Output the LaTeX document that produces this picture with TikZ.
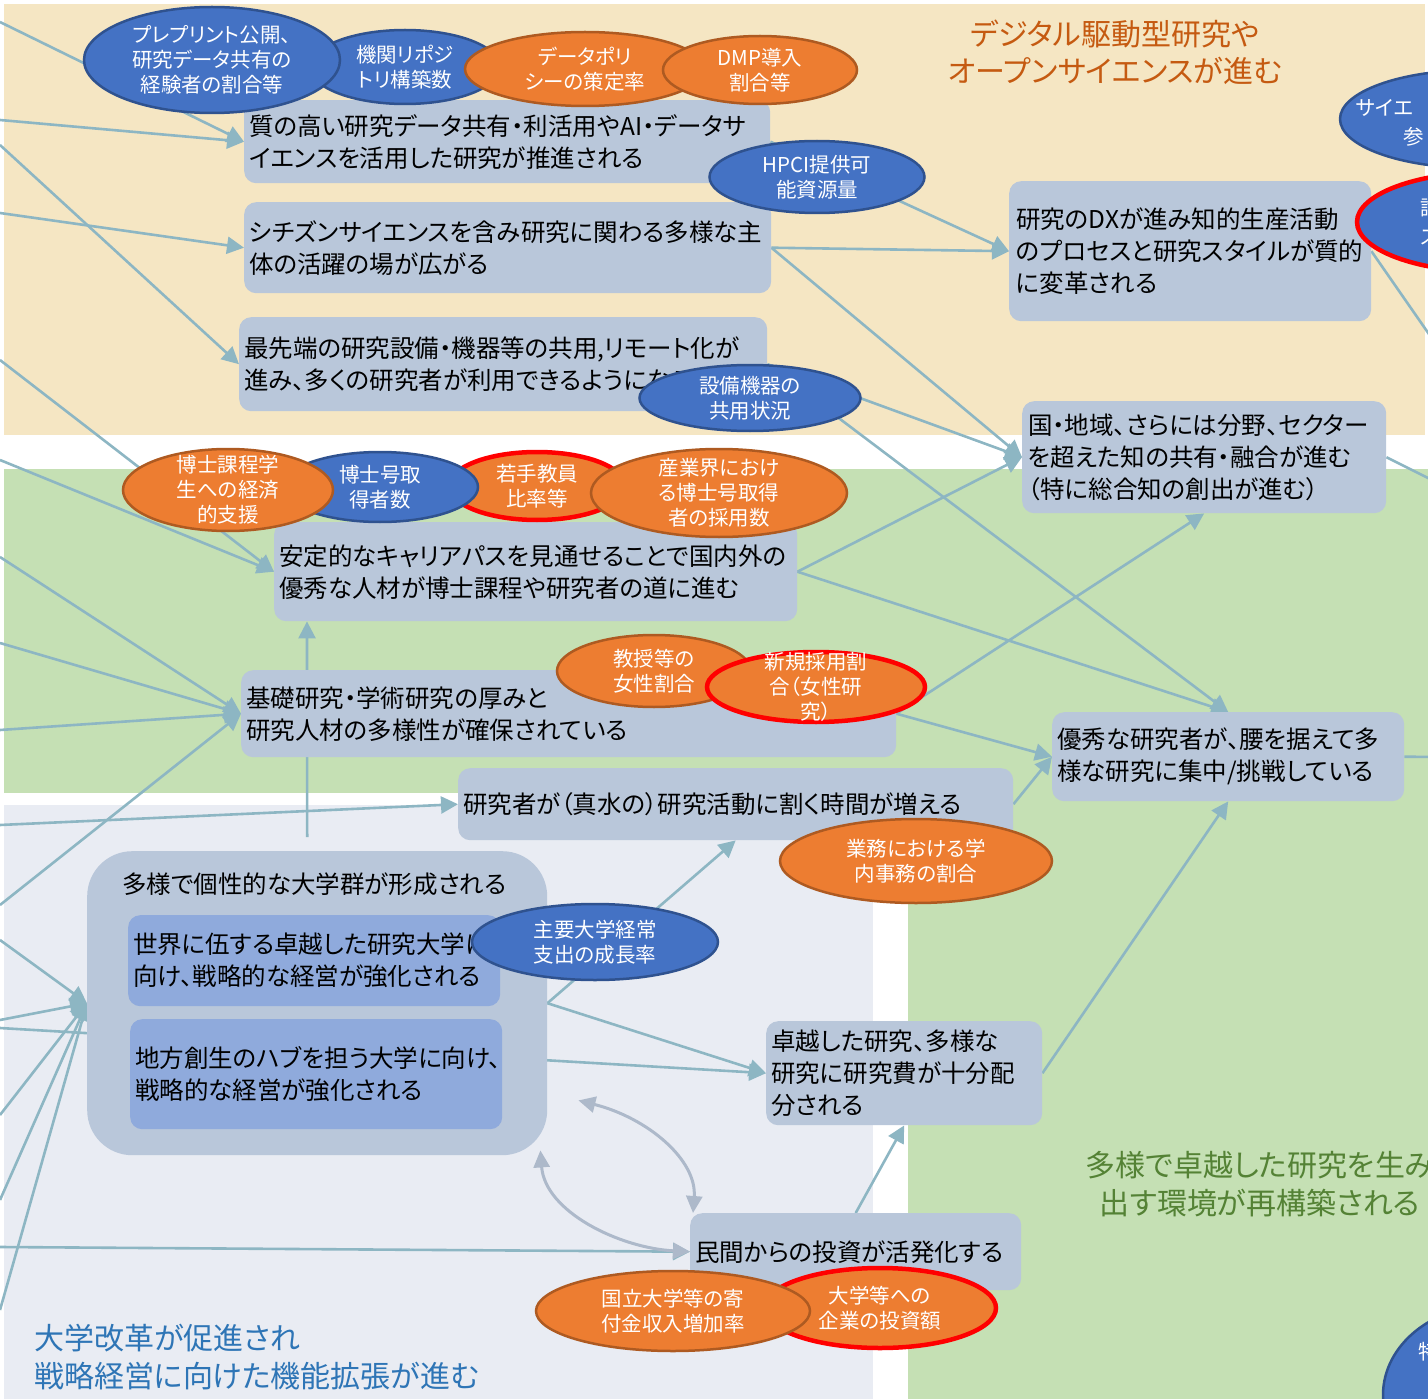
\documentclass[tikz,border=0pt]{standalone}
\usepackage{fontspec}
\setmainfont{Noto Sans CJK JP}[RawFeature=+palt]
\usepackage{xcolor}
\usetikzlibrary{shapes.geometric,arrows.meta,positioning}
\definecolor{bgY}{HTML}{F5E6C3}
\definecolor{bgG}{HTML}{C5E0B4}
\definecolor{bgB}{HTML}{E9ECF3}
\definecolor{boxC}{HTML}{B9C7DA}
\definecolor{innC}{HTML}{8FAADC}
\definecolor{eBlue}{HTML}{4472C4}
\definecolor{eBlueL}{HTML}{2F528F}
\definecolor{eOrng}{HTML}{ED7D31}
\definecolor{eOrngL}{HTML}{AE5A21}
\definecolor{lkC}{HTML}{8DB6C3}
\definecolor{cvC}{HTML}{ADB9CA}
\definecolor{ttO}{HTML}{C55A11}
\definecolor{ttB}{HTML}{2E75B6}
\definecolor{ttG}{HTML}{548235}
\newcommand\bxfont{\fontsize{24.5}{32}\selectfont}
\newcommand\elfont{\fontsize{20.5}{25}\selectfont}
\newcommand\ttfont{\fontsize{30}{38}\selectfont}
\pgfdeclarelayer{bg}
\pgfdeclarelayer{lk}
\pgfsetlayers{bg,lk,main}
\tikzset{
    BX1/.style ={rectangle, rounded corners=12pt, fill=boxC, inner xsep=5pt, inner ysep=2pt, anchor=north west, align=left, font=\bxfont},
    BX2/.style ={BX1, fill=innC},
    GR1/.style ={rectangle, rounded corners=45pt, fill=boxC, anchor=north west},
    SZ/.style n args={3}{minimum width=#1, minimum height=#2, text width=#3},
    EL1/.style ={ellipse, fill=eBlue, draw=eBlueL, line width=2.5pt, inner sep=0pt},
    EL2/.style ={ellipse, fill=eOrng, draw=eOrngL, line width=2.5pt, inner sep=0pt},
    ER/.style ={draw=red, line width=4.5pt},
    ES/.style 2 args={minimum width=#1, minimum height=#2},
    ET/.style ={text=white, align=center, font=\elfont, inner sep=0pt},
    TT1/.style ={align=center, font=\ttfont, inner sep=0pt},
    LK1/.style ={draw=lkC, line width=2.6pt, -{Triangle[length=17pt,width=17pt]}},
    LK0/.style ={draw=lkC, line width=2.6pt},
    LK2/.style ={draw=cvC, line width=3pt, {Triangle[length=17pt,width=16pt]}-{Triangle[length=17pt,width=16pt]}}
}

\begin{document}
\begin{tikzpicture}[x=1pt,y=-1pt]
\useasboundingbox (0,0) rectangle (1428,1399);
\begin{pgfonlayer}{bg}
    \fill[bgY] (4,4) rectangle (1425,435);
    \fill[bgG] (4,469) rectangle (1428,793);
    \fill[bgG] (908,469) rectangle (1428,1399);
    \fill[bgB] (4,805) rectangle (873,1399);
\end{pgfonlayer}

\node[TT1, text=ttO, font=\fontsize{30}{37}\selectfont] (tDig) at (1115,52) {デジタル駆動型研究や\\オープンサイエンスが進む};
\node[TT1, text=ttB, anchor=west, align=left] (tUniv) at (34,1357) {大学改革が促進され\\戦略経営に向けた機能拡張が進む};
\node[TT1, text=ttG] (tEnv) at (1260,1184) {多様で卓越した研究を生み\\出す環境が再構築される};

\node[BX1, SZ={526pt}{83pt}{516pt}] (Bdata) at (244,100) {質の高い研究データ共有・利活用やAI・データサ\\イエンスを活用した研究が推進される};
\node[BX1, SZ={527pt}{91pt}{517pt}] (Bciti) at (244,202) {シチズンサイエンスを含み研究に関わる多様な主\\体の活躍の場が広がる};
\node[BX1, SZ={528pt}{94pt}{518pt}] (Bequip) at (239,317) {最先端の研究設備・機器等の共用,リモート化が\\進み、多くの研究者が利用できるようになる};
\node[BX1, SZ={358pt}{140pt}{348pt}, inner xsep=7pt] (Bdx) at (1009,181) {研究のDXが進み知的生産活動\\のプロセスと研究スタイルが質的\\に変革される};
\node[BX1, SZ={362pt}{112pt}{352pt}, inner xsep=6pt] (Bshare) at (1022,401) {国・地域、さらには分野、セクター\\を超えた知の共有・融合が進む\\（特に総合知の創出が進む）};
\node[BX1, SZ={523pt}{99pt}{513pt}] (Bcareer) at (274,522) {安定的なキャリアパスを見通せることで国内外の\\優秀な人材が博士課程や研究者の道に進む};
\node[BX1, SZ={655pt}{87pt}{645pt}] (Bbasic) at (241,670) {基礎研究・学術研究の厚みと\\研究人材の多様性が確保されている};
\node[BX1, SZ={555pt}{72pt}{545pt}] (Btime) at (458,768) {研究者が（真水の）研究活動に割く時間が増える};
\node[BX1, SZ={352pt}{89pt}{342pt}] (Bexc) at (1052,712) {優秀な研究者が、腰を据えて多\\様な研究に集中/挑戦している};
\node[GR1, minimum width=460pt, minimum height=304pt] (univ) at (87,851) {};
\node[anchor=west, font=\bxfont, inner sep=0pt] (univT) at (122,884) {多様で個性的な大学群が形成される};
\node[BX2, SZ={372pt}{91pt}{362pt}] (Bworld) at (128,915) {世界に伍する卓越した研究大学に\\向け、戦略的な経営が強化される};
\node[BX2, SZ={372pt}{110pt}{362pt}] (Blocal) at (130,1019) {地方創生のハブを担う大学に向け、\\戦略的な経営が強化される};
\node[BX1, SZ={276pt}{104pt}{266pt}] (Bfund) at (766,1021) {卓越した研究、多様な\\研究に研究費が十分配\\分される};
\node[BX1, SZ={331pt}{77pt}{321pt}] (Bpriv) at (690,1213) {民間からの投資が活発化する};

\node[EL1, ES={190pt}{74pt}, label={[ET]center:{機関リポジ\\トリ構築数}}] (eRepo) at (405,67) {};
\node[EL1, ES={256pt}{106pt}, label={[ET]center:{プレプリント公開、\\研究データ共有の\\経験者の割合等}}] (ePre) at (212,60) {};
\node[EL2, ES={240pt}{74pt}, label={[ET]center:{データポリ\\シーの策定率}}] (ePol) at (585,69) {};
\node[EL2, ES={194pt}{68pt}, label={[ET]center:{DMP導入\\割合等}}] (eDmp) at (760,70) {};
\node[EL1, ES={215pt}{72pt}, label={[ET]center:{HPCI提供可\\能資源量}}] (eHpci) at (817,177) {};
\node[EL1, ES={221pt}{66pt}, label={[ET]center:{設備機器の\\共用状況}}] (eEquip) at (750,398) {};
\node[EL1, ES={270pt}{98pt}] (eSci) at (1475,119) {};
\node[ET, anchor=west] (eSciA) at (1356,108) {サイエ};
\node[ET, anchor=west] (eSciB) at (1403,137) {参};
\node[EL1, ER, ES={266pt}{100pt}] (eRon) at (1490,222) {};
\node[ET, anchor=west] (eRonA) at (1420,208) {論};
\node[ET, anchor=west] (eRonB) at (1420,238) {ス};
\node[EL2, ER, ES={176pt}{68pt}, label={[ET]center:{若手教員\\比率等}}] (eYoung) at (537,486) {};
\node[EL1, ES={196pt}{70pt}, label={[ET]center:{博士号取\\得者数}}] (eDoc) at (380,487) {};
\node[EL2, ES={210pt}{82pt}, label={[ET]center:{博士課程学\\生への経済\\的支援}}] (eSup) at (228,490) {};
\node[EL2, ES={256pt}{88pt}, label={[ET]center:{産業界におけ\\る博士号取得\\者の採用数}}] (eInd) at (719,493) {};
\node[EL2, ES={194pt}{72pt}, label={[ET]center:{教授等の\\女性割合}}] (eProf) at (654,671) {};
\node[EL2, ER, ES={218pt}{70pt}, label={[ET]center:{新規採用割\\合（女性研\\究）}}] (eNew) at (816,687) {};
\node[EL2, ES={272pt}{84pt}, label={[ET]center:{業務における学\\内事務の割合}}] (eWork) at (916,861) {};
\node[EL1, ES={246pt}{76pt}, label={[ET]center:{主要大学経常\\支出の成長率}}] (eExp) at (595,942) {};
\node[EL2, ER, ES={232pt}{80pt}, label={[ET]center:{大学等への\\企業の投資額}}] (eCorp) at (880,1308) {};
\node[EL2, ES={274pt}{80pt}, label={[ET]center:{国立大学等の寄\\付金収入増加率}}] (eDon) at (673,1311) {};
\node[EL1, ES={220pt}{180pt}] (eTok) at (1493,1395) {};
\node[ET, anchor=west] (eTokA) at (1418,1352) {特};

\coordinate (in1) at (0,22);
\coordinate (in2) at (0,120);
\coordinate (in3) at (0,145);
\coordinate (in4) at (0,213);
\coordinate (in5) at (0,360);
\coordinate (in6) at (0,460);
\coordinate (in7) at (0,557);
\coordinate (in8) at (0,643);
\coordinate (in9) at (0,730);
\coordinate (in10) at (0,905);
\coordinate (in11) at (0,825);
\coordinate (in12) at (0,940);
\coordinate (in13) at (0,1020);
\coordinate (in14) at (0,1028);
\coordinate (in15) at (0,1115);
\coordinate (in16) at (0,1200);
\coordinate (in17) at (0,1310);
\coordinate (in18) at (0,1247);
\coordinate (out1) at (1440,350);
\coordinate (out2) at (1440,484);
\coordinate (out3) at (1440,757);

\begin{pgfonlayer}{lk}
    \draw[LK1] (in1) -- (Bdata.west);
    \draw[LK1] (in2) -- (Bdata.west);
    \draw[LK1] (in3) -- (Bequip.west);
    \draw[LK1] (in4) -- (Bciti.west);
    \draw[LK1] (in5) -- (Bcareer.west);
    \draw[LK1] (in6) -- (Bcareer.west);
    \foreach \s in {in7,in8,in9,in10}
        \draw[LK1] (\s) -- (Bbasic.west);
    \draw[LK1] (in11) -- (Btime.west);
    \foreach \s in {in12,in13,in15,in16,in17}
        \draw[LK1] (\s) -- (univ.west);
    \draw[LK1] (in14) -- (Bfund.west);
    \draw[LK1] (in18) -- (Bpriv.west);
    \draw[LK1] (Bdata.east) -- (Bdx.west);
    \draw[LK1] (Bciti.east) -- (Bdx.west);
    \draw[LK1] (Bciti.east) -- (Bshare.west);
    \draw[LK1] (Bequip.east) -- (Bshare.west);
    \draw[LK1] (Bequip.east) -- (Bexc.north);
    \draw[LK1] (Bcareer.east) -- (Bshare.west);
    \draw[LK1] (Bcareer.east) -- (Bexc.north);
    \draw[LK1] (Bbasic.east) -- (Bshare.south);
    \draw[LK1] (Bbasic.east) -- (Bexc.west);
    \draw[LK1] (Btime.east) -- (Bexc.west);
    \draw[LK1] (Bfund.east) -- (Bexc.south);
    \draw[LK1] ([shift={(-10pt,14pt)}]univ.north) -- ([xshift=33pt]Bcareer.south west);
    \draw[LK1] (univ.east) -- (Btime.south);
    \draw[LK1] (univ.east) -- (Bfund.west);
    \draw[LK1] (Bpriv.north) -- (Bfund.south);
    \draw[LK0] (Bdx.east) -- (out1);
    \draw[LK0] (Bshare.east) -- (out2);
    \draw[LK0] (Bexc.east) -- (out3);
    \draw[LK2] ([shift={(31pt,55pt)}]univ.south east) .. controls (648,1118) and (697,1160) .. ([xshift=3pt]Bpriv.north west);
    \draw[LK2] ([shift={(-7pt,5pt)}]univ.south east) .. controls (545,1212) and (620,1248) .. (Bpriv.west);
\end{pgfonlayer}
\end{tikzpicture}
\end{document}
